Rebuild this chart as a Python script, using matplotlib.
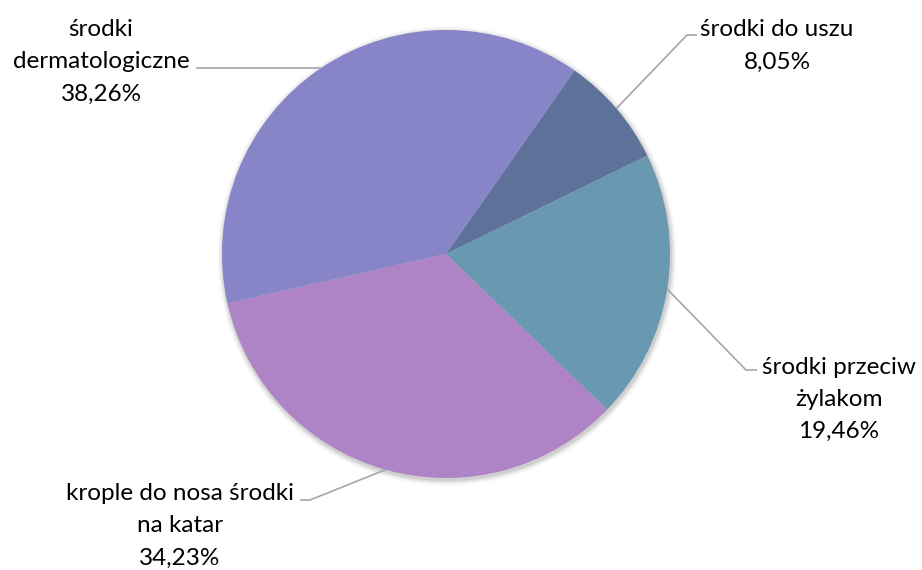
import numpy as np
import matplotlib
matplotlib.use("Agg")
import matplotlib.pyplot as plt
from matplotlib.patches import Circle

categories = ["środki do uszu", "środki przeciw\nżylakom", "krople do nosa środki\nna katar", "środki\ndermatologiczne"]
values = [8.05, 19.46, 34.23, 38.26]
colors = ["#5E7198", "#6899B0", "#AE84C6", "#8784C7"]

plt.rcParams['font.family'] = ['Lato', 'DejaVu Sans']

W, H = 922, 570
fig = plt.figure(figsize=(W / 100, H / 100), dpi=100)
ax = fig.add_axes([0, 0, 1, 1])

cx, cy, R = 446, 254, 224

# soft shadow
for i, a in enumerate(np.linspace(0.05, 0.01, 6)):
    ax.add_patch(Circle((cx + 1, cy + 2), R + 1 + i, color='black', alpha=a, lw=0, zorder=0))

wedges, _ = ax.pie(values, colors=colors, startangle=-55, counterclock=True,
                   center=(cx, cy), radius=R, frame=True,
                   wedgeprops=dict(linewidth=0))
ax.set_xlim(0, W)
ax.set_ylim(H, 0)
ax.set_aspect('equal')
ax.axis('off')

# label layout: text centre x, first-line centre y, elbow point, line start
label_layout = [
    dict(tx=777, ty=28, elbow=(687, 35), start=(697, 35)),
    dict(tx=839, ty=365, elbow=(746, 370), start=(757, 370)),
    dict(tx=180, ty=492, elbow=(310, 500), start=(300, 500)),
    dict(tx=101, ty=28, elbow=(318, 68), start=(196, 68)),
]

line_color = "#A6A6A6"
fs = 17.5
for w, cat, val, lay in zip(wedges, categories, values, label_layout):
    mid = np.deg2rad((w.theta1 + w.theta2) / 2)
    ex = cx + R * np.cos(mid)
    ey = cy + R * np.sin(mid)
    xs = [lay['start'][0], lay['elbow'][0], ex]
    ys = [lay['start'][1], lay['elbow'][1], ey]
    ax.plot(xs, ys, color=line_color, lw=1.2, zorder=1, solid_capstyle='butt')
    lines = f"{cat}\n{val:.2f}%".replace('.', ',').split('\n')
    for k, ln in enumerate(lines):
        ax.text(lay['tx'], lay['ty'] + 32 * k, ln, ha='center', va='center_baseline',
                fontsize=fs, color='black')

fig.savefig("out.png", dpi=100, facecolor='white')
